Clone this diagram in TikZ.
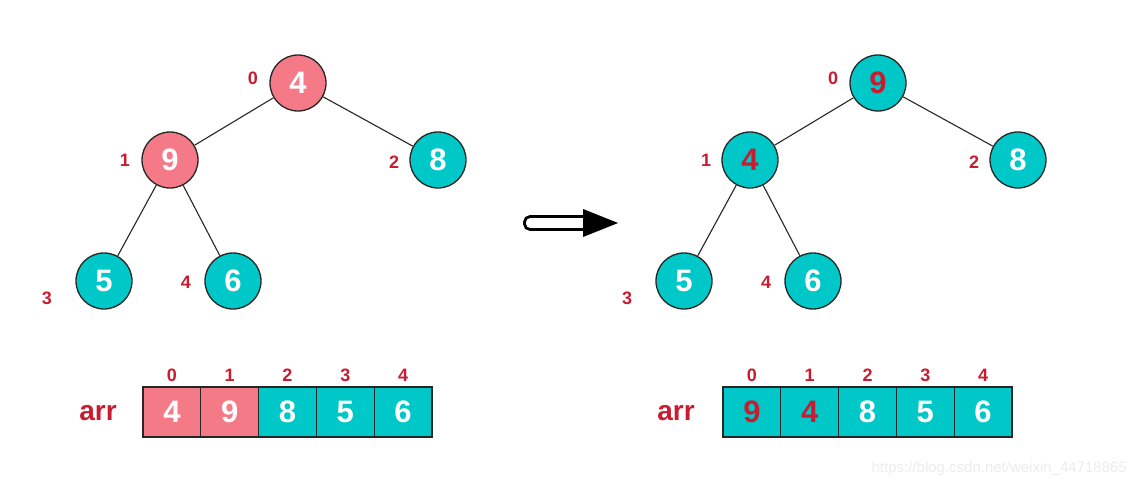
\documentclass[tikz,border=0pt]{standalone}
\usepackage{fontspec}
\setmainfont{Liberation Sans}
\definecolor{hpink}{RGB}{244,122,136}
\definecolor{hteal}{RGB}{0,200,200}
\definecolor{hred}{RGB}{200,28,48}
\definecolor{wmark}{RGB}{236,236,236}
\begin{document}
\begin{tikzpicture}[x=1pt,y=-1pt,
  hnode/.style={circle,draw=black!85,line width=1.3pt,minimum size=56pt,inner sep=0pt,
    font=\fontsize{31}{31}\selectfont\bfseries,text=white},
  pinknode/.style={hnode,fill=hpink},
  tealnode/.style={hnode,fill=hteal},
  idx/.style={font=\fontsize{18}{18}\selectfont\bfseries,text=hred,inner sep=0pt},
  cell/.style={rectangle,draw=black!85,line width=1.2pt,minimum width=57.8pt,minimum height=50pt,
    inner sep=0pt,font=\fontsize{31}{31}\selectfont\bfseries,text=white},
  pinkcell/.style={cell,fill=hpink},
  tealcell/.style={cell,fill=hteal},
  redtxt/.style={text=hred},
  arrlabel/.style={font=\fontsize{28}{28}\selectfont\bfseries,text=hred,inner sep=0pt},
  edge/.style={draw=black!85,line width=1.1pt}]
\useasboundingbox (0,0) rectangle (1137,487);
% ---------- left tree ----------
\node[pinknode] (L0) at (298,83) {4};
\node[pinknode] (L1) at (170,160) {9};
\node[tealnode] (L2) at (438,160) {8};
\node[tealnode] (L3) at (104,281) {5};
\node[tealnode] (L4) at (233,281) {6};
\draw[edge] (L0) -- (L1);
\draw[edge] (L0) -- (L2);
\draw[edge] (L1) -- (L3);
\draw[edge] (L1) -- (L4);
\node[idx] (li0) at (253,78) {0};
\node[idx] (li1) at (125,160) {1};
\node[idx] (li2) at (394,162) {2};
\node[idx] (li3) at (47,298) {3};
\node[idx] (li4) at (186,282) {4};
% ---------- right tree ----------
\node[tealnode,redtxt] (R0) at (878,83) {9};
\node[tealnode,redtxt] (R1) at (750,160) {4};
\node[tealnode] (R2) at (1018,160) {8};
\node[tealnode] (R3) at (684,281) {5};
\node[tealnode] (R4) at (813,281) {6};
\draw[edge] (R0) -- (R1);
\draw[edge] (R0) -- (R2);
\draw[edge] (R1) -- (R3);
\draw[edge] (R1) -- (R4);
\node[idx] (ri0) at (833,78) {0};
\node[idx] (ri1) at (706,160) {1};
\node[idx] (ri2) at (974,162) {2};
\node[idx] (ri3) at (627,298) {3};
\node[idx] (ri4) at (766,282) {4};
% ---------- arrow ----------
\draw[line width=2.8pt,rounded corners=5.5pt,fill=white] (524.5,216.5) rectangle (592,229.5);
\fill[black] (583,209) coordinate (ah1) -- (618,223) coordinate (ah2) -- (583,237) coordinate (ah3) -- cycle;
% ---------- left array ----------
\node[arrlabel] (larr) at (98,413) {arr};
\node[pinkcell] (LA0) at (171.9,412) {4};
\node[pinkcell] (LA1) at (229.7,412) {9};
\node[tealcell] (LA2) at (287.5,412) {8};
\node[tealcell] (LA3) at (345.3,412) {5};
\node[tealcell] (LA4) at (403.1,412) {6};
\foreach \i in {0,...,4} {\node[idx] (LAI\i) at ([yshift=37pt]LA\i.center) {\i};}
% ---------- right array ----------
\node[arrlabel] (rarr) at (676,413) {arr};
\node[tealcell,redtxt] (RA0) at (751.9,412) {9};
\node[tealcell,redtxt] (RA1) at (809.7,412) {4};
\node[tealcell] (RA2) at (867.5,412) {8};
\node[tealcell] (RA3) at (925.3,412) {5};
\node[tealcell] (RA4) at (983.1,412) {6};
\foreach \i in {0,...,4} {\node[idx] (RAI\i) at ([yshift=37pt]RA\i.center) {\i};}
% ---------- watermark ----------
\node[text=wmark,font=\fontsize{15}{15}\selectfont,anchor=east,inner sep=0pt] (wm) at (1127,469) {https://blog.csdn.net/weixin\_44718865};
\end{tikzpicture}
\end{document}
